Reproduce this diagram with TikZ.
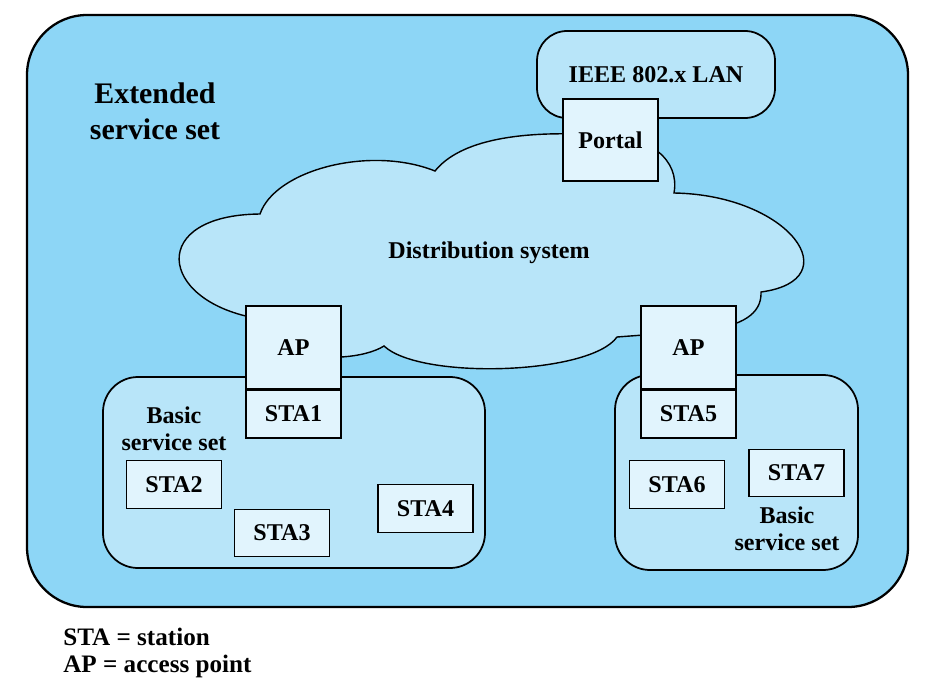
\documentclass[tikz,border=0pt]{standalone}
\usepackage{fontspec}
\setmainfont{Liberation Serif}
\usetikzlibrary{positioning}
\definecolor{essblue}{RGB}{141,214,246}
\definecolor{cloudblue}{RGB}{184,229,249}
\definecolor{boxblue}{RGB}{225,244,253}
\tikzset{
  lbl/.style={font=\fontsize{13.7}{15.3}\selectfont\bfseries,align=center},
  stabox/.style={lbl,draw,line width=0.8pt,fill=boxblue,minimum width=1.9cm,minimum height=0.95cm,inner sep=0pt},
  apbox/.style={stabox,minimum height=1.66cm},
  area/.style={draw,line width=1pt,fill=cloudblue},
  keylbl/.style={lbl,font=\fontsize{14.3}{16}\selectfont\bfseries,anchor=base west,inner sep=0pt},
}
\begin{document}
\begin{tikzpicture}[x=0.02cm,y=-0.02cm]
\useasboundingbox (0,0) rectangle (936,686);
% Extended service set
\draw[line width=1.3pt,fill=essblue,rounded corners=1.2cm] (27,15) rectangle (908,607);
\node[lbl,font=\fontsize{17}{20.4}\selectfont\bfseries] (esslbl) at (155,111) {Extended\\service set};

% LAN and portal
\draw[area,rounded corners=0.6cm] (537,31) rectangle (775,118);
\node[lbl] (lan) at (656,75) {IEEE 802.x LAN};

% Distribution system cloud
\draw[area,line width=0.8pt] (255,318)
  .. controls (158,300) and (148,215) .. (260,214)
  .. controls (275,170) and (370,145) .. (435,171)
  .. controls (460,140) and (520,130) .. (600,135)
  .. controls (650,135) and (680,160) .. (674,193)
  .. controls (790,195) and (850,280) .. (761,292)
  .. controls (762,315) and (740,325) .. (710,330)
  -- (617,337)
  .. controls (590,375) and (420,380) .. (384,346)
  .. controls (365,358) and (320,362) .. (290,350)
  -- cycle;
\node[lbl] (ds) at (489,253) {Distribution system};
\node[apbox,minimum height=1.64cm] (portal) at (610.5,140) {Portal};

% Basic service sets
\draw[area,rounded corners=0.7cm] (103,377) rectangle (485,568);
\draw[area,rounded corners=0.7cm] (615,375) rectangle (858,570);
\node[lbl] (bssl) at (174,429) {Basic\\service set};
\node[lbl] (bssr) at (787,529) {Basic\\service set};

\node[apbox] (apl) at (293.5,347.5) {AP};
\node[stabox,below=0pt of apl] (sta1) {STA1};
\node[stabox] (sta2) at (174,484.5) {STA2};
\node[stabox] (sta3) at (282,533) {STA3};
\node[stabox] (sta4) at (425.5,508.5) {STA4};

\node[apbox] (apr) at (688.5,347.5) {AP};
\node[stabox,below=0pt of apr] (sta5) {STA5};
\node[stabox] (sta6) at (677,484.5) {STA6};
\node[stabox] (sta7) at (796.5,473) {STA7};

% Legend
\node[keylbl] (key1) at (63,645) {STA = station};
\node[keylbl] (key2) at (63,672) {AP = access point};
\end{tikzpicture}
\end{document}
